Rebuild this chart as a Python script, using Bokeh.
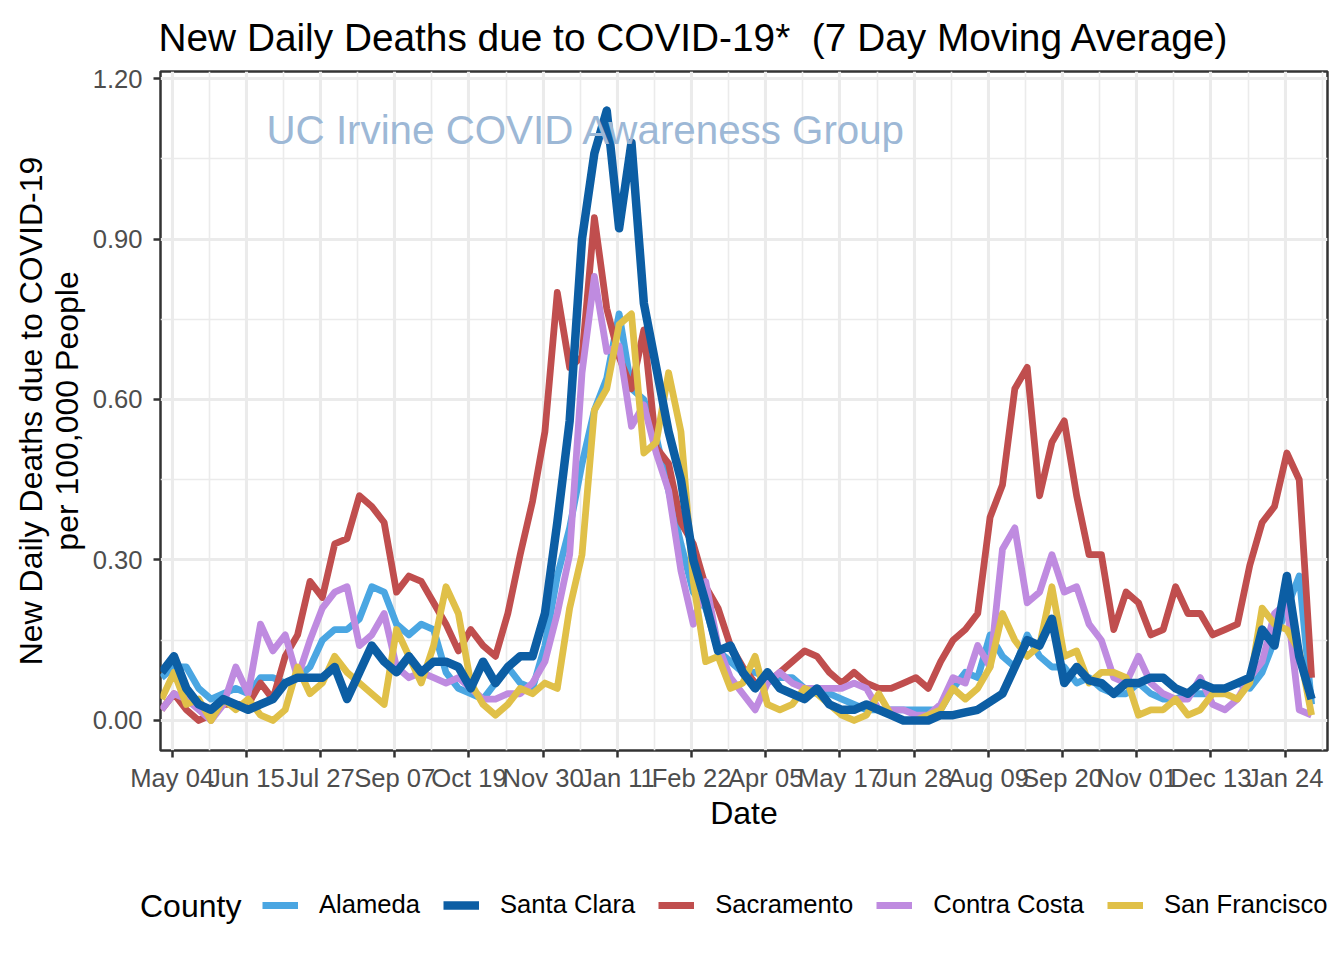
import math
import pandas as pd
from bokeh.plotting import figure
from bokeh.layouts import column
from bokeh.models import (FixedTicker, DatetimeTickFormatter, PrintfTickFormatter,
                          Label, Legend, LegendItem, Range1d, LinearAxis)
from bokeh.embed import file_html
from bokeh.resources import INLINE

FONT = "Liberation Sans"

# weekly sample dates (7-day moving average values)
dates = pd.date_range("2020-04-28", periods=94, freq="7D")

alameda = [
    0.08, 0.10, 0.10, 0.06, 0.04, 0.05, 0.06, 0.05, 0.08, 0.08,
    0.07, 0.08, 0.10, 0.15, 0.17, 0.17, 0.19, 0.25, 0.24, 0.18,
    0.16, 0.18, 0.17, 0.09, 0.06, 0.05, 0.04, 0.07, 0.10, 0.07,
    0.06, 0.14, 0.27, 0.36, 0.48, 0.58, 0.64, 0.76, 0.62, 0.60,
    0.53, 0.43, 0.33, 0.24, 0.21, 0.13, 0.11, 0.09, 0.09, 0.08,
    0.08, 0.08, 0.06, 0.05, 0.05, 0.04, 0.03, 0.02, 0.02, 0.02,
    0.02, 0.02, 0.02, 0.02, 0.06, 0.09, 0.08, 0.16, 0.12, 0.10,
    0.16, 0.12, 0.10, 0.10, 0.07, 0.08, 0.06, 0.05, 0.05, 0.07,
    0.05, 0.04, 0.04, 0.05, 0.05, 0.05, 0.06, 0.07, 0.06, 0.09,
    0.15, 0.21, 0.27, 0.03]

santa_clara = [
    0.09, 0.12, 0.06, 0.03, 0.02, 0.04, 0.03, 0.02, 0.03, 0.04,
    0.07, 0.08, 0.08, 0.08, 0.10, 0.04, 0.09, 0.14, 0.11, 0.09,
    0.12, 0.09, 0.11, 0.11, 0.10, 0.06, 0.11, 0.07, 0.10, 0.12,
    0.12, 0.20, 0.37, 0.56, 0.90, 1.06, 1.14, 0.92, 1.08, 0.78,
    0.66, 0.54, 0.45, 0.30, 0.22, 0.13, 0.14, 0.09, 0.06, 0.09,
    0.06, 0.05, 0.04, 0.06, 0.03, 0.02, 0.02, 0.03, 0.02, 0.01,
    0.00, 0.00, 0.00, 0.01, 0.01, 0.015, 0.02, 0.035, 0.05, 0.10,
    0.15, 0.14, 0.19, 0.07, 0.10, 0.075, 0.07, 0.05, 0.07, 0.07,
    0.08, 0.08, 0.06, 0.05, 0.07, 0.06, 0.06, 0.07, 0.08, 0.17,
    0.14, 0.27, 0.12, 0.04]

sacramento = [
    0.02, 0.05, 0.02, 0.00, 0.01, 0.03, 0.03, 0.03, 0.07, 0.04,
    0.12, 0.16, 0.26, 0.23, 0.33, 0.34, 0.42, 0.40, 0.37, 0.24,
    0.27, 0.26, 0.22, 0.18, 0.13, 0.17, 0.14, 0.12, 0.20, 0.31,
    0.41, 0.54, 0.80, 0.66, 0.68, 0.94, 0.77, 0.68, 0.62, 0.73,
    0.51, 0.48, 0.37, 0.33, 0.25, 0.21, 0.14, 0.10, 0.07, 0.07,
    0.09, 0.11, 0.13, 0.12, 0.09, 0.07, 0.09, 0.07, 0.06, 0.06,
    0.07, 0.08, 0.06, 0.11, 0.15, 0.17, 0.20, 0.38, 0.44, 0.62,
    0.66, 0.42, 0.52, 0.56, 0.42, 0.31, 0.31, 0.17, 0.24, 0.22,
    0.16, 0.17, 0.25, 0.20, 0.20, 0.16, 0.17, 0.18, 0.29, 0.37,
    0.40, 0.50, 0.45, 0.08]

contra_costa = [
    0.02, 0.05, 0.04, 0.02, 0.00, 0.03, 0.10, 0.05, 0.18, 0.13,
    0.16, 0.08, 0.15, 0.21, 0.24, 0.25, 0.14, 0.16, 0.20, 0.10,
    0.08, 0.09, 0.08, 0.07, 0.08, 0.06, 0.04, 0.04, 0.05, 0.05,
    0.07, 0.11, 0.20, 0.31, 0.65, 0.83, 0.69, 0.70, 0.55, 0.59,
    0.50, 0.43, 0.28, 0.18, 0.26, 0.14, 0.08, 0.05, 0.02, 0.07,
    0.09, 0.07, 0.06, 0.06, 0.06, 0.06, 0.07, 0.06, 0.02, 0.02,
    0.02, 0.01, 0.01, 0.03, 0.08, 0.07, 0.14, 0.10, 0.32, 0.36,
    0.22, 0.24, 0.31, 0.24, 0.25, 0.18, 0.15, 0.08, 0.07, 0.12,
    0.07, 0.05, 0.04, 0.04, 0.08, 0.03, 0.02, 0.04, 0.08, 0.11,
    0.20, 0.22, 0.02, 0.01]

san_francisco = [
    0.04, 0.09, 0.03, 0.04, 0.00, 0.04, 0.02, 0.04, 0.01, 0.00,
    0.02, 0.10, 0.05, 0.07, 0.12, 0.09, 0.07, 0.05, 0.03, 0.17,
    0.12, 0.07, 0.14, 0.25, 0.20, 0.07, 0.03, 0.01, 0.03, 0.06,
    0.05, 0.07, 0.06, 0.21, 0.31, 0.58, 0.62, 0.74, 0.76, 0.50,
    0.52, 0.65, 0.54, 0.26, 0.11, 0.12, 0.06, 0.07, 0.12, 0.03,
    0.02, 0.03, 0.06, 0.05, 0.03, 0.01, 0.00, 0.01, 0.05, 0.01,
    0.00, 0.00, 0.01, 0.02, 0.06, 0.04, 0.06, 0.10, 0.20, 0.15,
    0.12, 0.14, 0.25, 0.12, 0.13, 0.07, 0.09, 0.09, 0.08, 0.01,
    0.02, 0.02, 0.04, 0.01, 0.02, 0.05, 0.05, 0.04, 0.07, 0.21,
    0.18, 0.17, 0.13, 0.01]

counties = ["Alameda", "Santa Clara", "Sacramento", "Contra Costa", "San Francisco"]
colors = {"Alameda": "#4AA6E2", "Santa Clara": "#0C5EA4", "Sacramento": "#C04E4E",
          "Contra Costa": "#BF8BE0", "San Francisco": "#E0C048"}
series = {"Alameda": alameda, "Santa Clara": santa_clara, "Sacramento": sacramento,
          "Contra Costa": contra_costa, "San Francisco": san_francisco}
draw_order = ["Alameda", "Sacramento", "Contra Costa", "San Francisco", "Santa Clara"]

tick_dates = ["2020-05-04", "2020-06-15", "2020-07-27", "2020-09-07", "2020-10-19",
              "2020-11-30", "2021-01-11", "2021-02-22", "2021-04-05", "2021-05-17",
              "2021-06-28", "2021-08-09", "2021-09-20", "2021-11-01", "2021-12-13",
              "2022-01-24"]
y_ticks = [0.0, 0.3, 0.6, 0.9, 1.2]
y_minor = [0.15, 0.45, 0.75, 1.05]

title_text = "New Daily Deaths due to COVID-19*\u00a0\u00a0(7 Day Moving Average)"
ylab1 = "New Daily Deaths due to COVID-19"
ylab2 = "per 100,000 People"
xlab = "Date"
legend_title = "County"
watermark = "UC Irvine COVID Awareness Group"


def ms(d):
    return pd.Timestamp(d).value / 1e6


major_ms = [ms(d) for d in tick_dates]
minor_ms = [ms(pd.Timestamp(d) + pd.Timedelta(days=21)) for d in tick_dates]

W = 1336
H1 = 850
H2 = 102

p = figure(width=W, height=H1, x_axis_type="datetime",
           output_backend="svg", toolbar_location=None,
           x_range=Range1d(pd.Timestamp("2020-04-27 09:20"), pd.Timestamp("2022-02-17 00:00")),
           y_range=Range1d(-0.0561, 1.2131),
           min_border_left=160, min_border_right=9, min_border_top=71, min_border_bottom=100)
p.background_fill_color = "white"
p.border_fill_color = "white"
p.outline_line_color = "#333333"
p.outline_line_width = 2.5

# title
p.title.text = title_text
p.title.align = "left"
p.title.offset = -2
p.title.text_font = FONT
p.title.text_font_size = "38.8px"
p.title.text_font_style = "normal"
p.title.text_color = "black"
p.title.standoff = 25

# axes
p.xaxis.ticker = FixedTicker(ticks=major_ms, minor_ticks=minor_ms)
fmt = "%b %d"
p.xaxis.formatter = DatetimeTickFormatter(days=fmt, months=fmt, years=fmt, hours=fmt,
                                          milliseconds=fmt, seconds=fmt, minsec=fmt,
                                          minutes=fmt, hourmin=fmt)
p.yaxis.ticker = FixedTicker(ticks=y_ticks, minor_ticks=y_minor)
p.yaxis.formatter = PrintfTickFormatter(format="%.2f")
for ax in (p.xaxis[0], p.yaxis[0]):
    ax.axis_line_color = None
    ax.major_tick_line_color = "#333333"
    ax.major_tick_line_width = 2.5
    ax.major_tick_out = 7
    ax.major_tick_in = 0
    ax.minor_tick_out = 0
    ax.minor_tick_in = 0
    ax.major_label_text_font = FONT
    ax.major_label_text_font_size = "25.6px"
    ax.major_label_text_color = "#4D4D4D"
    ax.axis_label_text_font = FONT
    ax.axis_label_text_font_size = "32px"
    ax.axis_label_text_font_style = "normal"
    ax.axis_label_text_color = "black"
p.xaxis.major_label_standoff = 6
p.yaxis.major_label_standoff = 11
p.xaxis.axis_label = xlab
p.xaxis.axis_label_standoff = 0
p.yaxis.axis_label = ylab2
p.yaxis.axis_label_standoff = 5

# outer line of the two-line y-axis title
outer = LinearAxis(axis_label=ylab1, ticker=FixedTicker(ticks=[]),
                   axis_line_color=None, major_tick_line_color=None,
                   minor_tick_line_color=None, major_tick_out=0, major_tick_in=0,
                   minor_tick_out=0, minor_tick_in=0, major_label_standoff=0,
                   axis_label_standoff=-3, axis_label_text_font=FONT,
                   axis_label_text_font_size="32px", axis_label_text_font_style="normal",
                   axis_label_text_color="black")
p.add_layout(outer, "left")

for g in (p.xgrid[0], p.ygrid[0]):
    g.grid_line_color = "#EBEBEB"
    g.grid_line_width = 3.1
    g.minor_grid_line_color = "#EBEBEB"
    g.minor_grid_line_width = 1.6

# watermark
p.add_layout(Label(x=106, y=620, x_units="screen", y_units="screen", text=watermark,
                   text_font=FONT, text_font_size="40.3px", text_color="#9DB8D6",
                   text_baseline="alphabetic", text_align="left"))

for name in draw_order:
    lw = 8.5 if name == "Santa Clara" else 6.8
    p.line(dates, series[name], line_color=colors[name], line_width=lw, line_join="round")

# legend strip below the chart
p2 = figure(width=W, height=H2, output_backend="svg", toolbar_location=None,
            x_axis_location=None, y_axis_location=None,
            x_range=Range1d(0, W), y_range=Range1d(0, H2),
            min_border_left=0, min_border_right=0, min_border_top=0, min_border_bottom=0)
if "frame_align" in p2.properties():
    p2.frame_align = False
p2.outline_line_color = None
p2.grid.visible = False
p2.background_fill_color = "white"
p2.border_fill_color = "white"

key_renderers = {}
for name in counties:
    lw = 8.5 if name == "Santa Clara" else 6.8
    key_renderers[name] = p2.line([-100, -90], [-100, -90], line_color=colors[name],
                                  line_width=lw)

p2.add_layout(Label(x=139.5, y=47, x_units="screen", y_units="screen", text=legend_title,
                    text_font=FONT, text_font_size="32px", text_color="black",
                    text_baseline="middle", text_align="left"))
legend = Legend(items=[LegendItem(label=c, renderers=[key_renderers[c]]) for c in counties],
                orientation="horizontal", location=(262, 33),
                glyph_width=36, glyph_height=20, label_standoff=21, spacing=23,
                padding=0, margin=0, border_line_color=None, background_fill_alpha=0,
                label_text_font=FONT, label_text_font_size="25.6px",
                label_text_color="black")
p2.add_layout(legend)

layout = column(p, p2, spacing=0)
open("out.html", "w").write(file_html(layout, INLINE))
